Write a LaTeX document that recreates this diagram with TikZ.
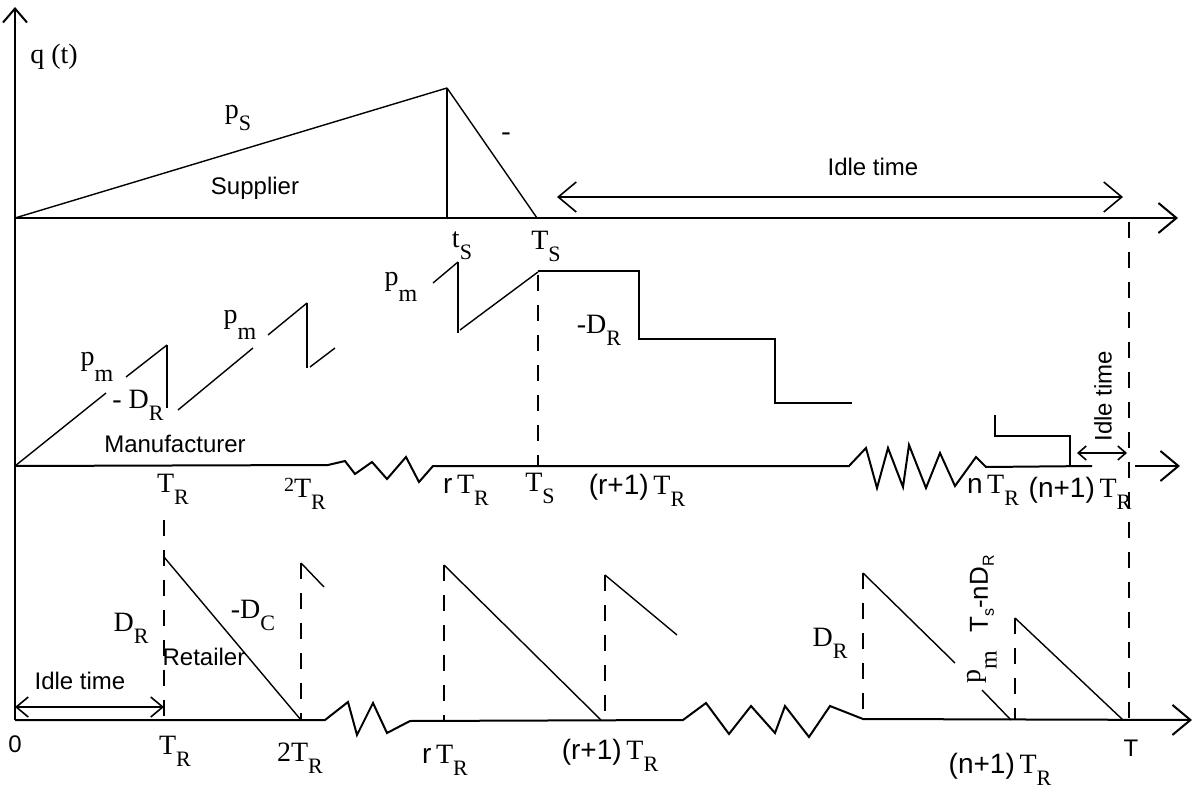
\documentclass[tikz,border=0pt]{standalone}
\usepackage{fontspec}
\setmainfont{Liberation Sans}
\newfontfamily\sy{Liberation Serif}
\newfontfamily\sa{Liberation Sans}
\usetikzlibrary{arrows.meta}
\newcommand{\dn}[1]{\raisebox{-6pt}{\fontsize{11}{12}\selectfont #1}}
\newcommand{\dnm}[1]{\raisebox{-8pt}{\fontsize{12}{12}\selectfont #1}}
\newcommand{\dns}[1]{\raisebox{-3pt}{\fontsize{8}{9}\selectfont #1}}

\begin{document}
\begin{tikzpicture}[x=0.5pt,y=0.5pt,yscale=-1,xscale=1,
  axis/.style={line width=1pt},
  thin/.style={line width=0.7pt},
  guide/.style={line width=0.8pt,dash pattern=on 8pt off 7pt},
  bigtip/.style={-{Straight Barb[length=9pt,width=15pt]}},
  lbl/.style={inner sep=0pt,font=\sy\fontsize{14}{16}\selectfont},
  txt/.style={inner sep=0pt,font=\sa\fontsize{12}{14}\selectfont}]
\useasboundingbox (0,0) rectangle (1200,792);

%Axes
\draw [axis,-{Straight Barb[length=7pt,width=12pt]}] (15,720) -- (15,7);
\draw [axis,bigtip] (15,218) -- (1178,218);
\draw [axis] (15,466) -- (328,465) -- (345,461) -- (355,474) -- (372,462) -- (387,479) -- (406,457) -- (419,482) -- (433,466)
  -- (849,466) -- (866,448) -- (877,488) -- (888,448) -- (903,487) -- (909,445) -- (926,488) -- (940,453) -- (955,486) -- (976,457) -- (986,467) -- (1092,466);
\draw [axis,bigtip] (1135,466) -- (1180,466);
\draw [axis,bigtip] (15,720) -- (325,720) -- (348,702) -- (357,735) -- (373,703) -- (387,733) -- (410,721)
  -- (683,720) -- (706,703) -- (729,734) -- (751,706) -- (775,733) -- (785,706) -- (809,737) -- (830,706) -- (863,719) -- (1192,720);

%Supplier
\draw [thin] (15,218) -- (447,88);
\draw [axis] (447,88) -- (447,218);
\draw [thin] (447,88) -- (537,218);
\draw [line width=0.8pt,{Straight Barb[length=9pt,width=15pt]}-{Straight Barb[length=9pt,width=15pt]}] (557,197) -- (1123,197);

%Manufacturer
\draw [thin] (15,466) -- (106,393);
\draw [thin] (126,377) -- (167,345);
\draw [axis] (167,345) -- (167,408);
\draw [thin] (178,410) -- (253,348);
\draw [thin] (268,335) -- (307,303);
\draw [axis] (307,303) -- (307,368);
\draw [thin] (310,367) -- (335,348);
\draw [thin] (433,283) -- (458,262);
\draw [axis] (458,262) -- (458,333);
\draw [thin] (460,330) -- (538,272);
\draw [axis] (538,271) -- (639,271) -- (639,339) -- (775,339) -- (775,403) -- (852,403);
\draw [axis] (995,415) -- (995,436) -- (1070,436) -- (1070,466);
\draw [guide] (538,275) -- (538,466);
\draw [line width=0.8pt,{Straight Barb[length=4pt,width=7pt]}-{Straight Barb[length=4pt,width=7pt]}] (1077,453) -- (1127,453);

%Retailer
\draw [guide] (164,520) -- (164,720);
\draw [thin] (164,557) -- (301,720);
\draw [guide] (301,563) -- (301,720);
\draw [thin] (301,563) -- (324,587);
\draw [guide] (444,565) -- (444,720);
\draw [thin] (444,565) -- (601,720);
\draw [guide] (605,575) -- (605,720);
\draw [thin] (605,575) -- (677,635);
\draw [guide] (863,573) -- (863,720);
\draw [thin] (863,573) -- (955,663);
\draw [thin] (982,690) -- (1011,720);
\draw [guide] (1015,618) -- (1015,720);
\draw [thin] (1015,618) -- (1123,720);
\draw [guide] (1129,222) -- (1129,720);
\draw [line width=0.8pt,{Straight Barb[length=6pt,width=10pt]}-{Straight Barb[length=6pt,width=10pt]}] (15,707) -- (164,707);

% Text Node
\node [lbl] (qt) at (54,57) {q (t)};
\node [lbl] (ps) at (238,118) {p\dn{S}};
\node [lbl] (dash) at (506,137) {-};
\node [txt] (supplier) at (255,188) {Supplier};
\node [lbl] (ts) at (462,246) {t\dn{S}};
\node [lbl] (Ts) at (546,246) {T\dn{S}};
\node [txt] (idles) at (873,167) {Idle time};

% Text Node
\node [lbl] (pm1) at (97,367) {p\dnm{m}};
\node [lbl] (pm2) at (240,325) {p\dnm{m}};
\node [lbl] (pm3) at (401,287) {p\dnm{m}};
\node [lbl] (dr1) at (138,405) {- D\dn{R}};
\node [lbl] (dr2) at (599,330) {-D\dn{R}};
\node [txt] (manuf) at (175,444) {Manufacturer};
\node [lbl] (mtr) at (173,489) {T\dn{R}};
\node [lbl] (m2tr) at (305,494) {\raisebox{3pt}{\fontsize{10}{10}\selectfont 2}T\dn{R}};
\node [lbl] (mrtr) at (466,490) {{\sa r}\,T\dn{R}};
\node [lbl] (mts) at (540,488) {T\dn{S}};
\node [lbl] (mr1tr) at (637,490) {{\sa (r+1)}\,T\dn{R}};
\node [lbl] (mntr) at (993,490) {{\sa n}\,T\dn{R}};
\node [lbl] (mn1tr) at (1080,493) {{\sa (n+1)}\,T\dn{R}};
\node [txt,rotate=90] (idlem) at (1103,396) {Idle time};

% Text Node
\node [lbl] (dr3) at (131,628) {D\dn{R}};
\node [lbl] (dc) at (253,615) {-D\dn{C}};
\node [txt] (retailer) at (204,657) {Retailer};
\node [txt] (idler) at (80,681) {Idle time};
\node [txt] (zero) at (15,744) {0};
\node [lbl] (rtr) at (175,751) {T\dn{R}};
\node [lbl] (r2tr) at (300,758) {2T\dn{R}};
\node [lbl] (rrtr) at (445,760) {{\sa r}\,T\dn{R}};
\node [lbl] (rr1tr) at (610,755) {{\sa (r+1)}\,T\dn{R}};
\node [lbl] (dr4) at (830,643) {D\dn{R}};
\node [lbl] (rn1tr) at (1000,769) {{\sa (n+1)}\,T\dn{R}};
\node [txt] (rt) at (1131,748) {T};
\node [lbl,rotate=90] (pm4) at (982,667) {p\dnm{m}};
\node [txt,rotate=90,font=\sa\fontsize{13}{14}\selectfont] (tsnd) at (982,594) {T\dns{s}-nD\dns{R}};
\end{tikzpicture}
\end{document}
